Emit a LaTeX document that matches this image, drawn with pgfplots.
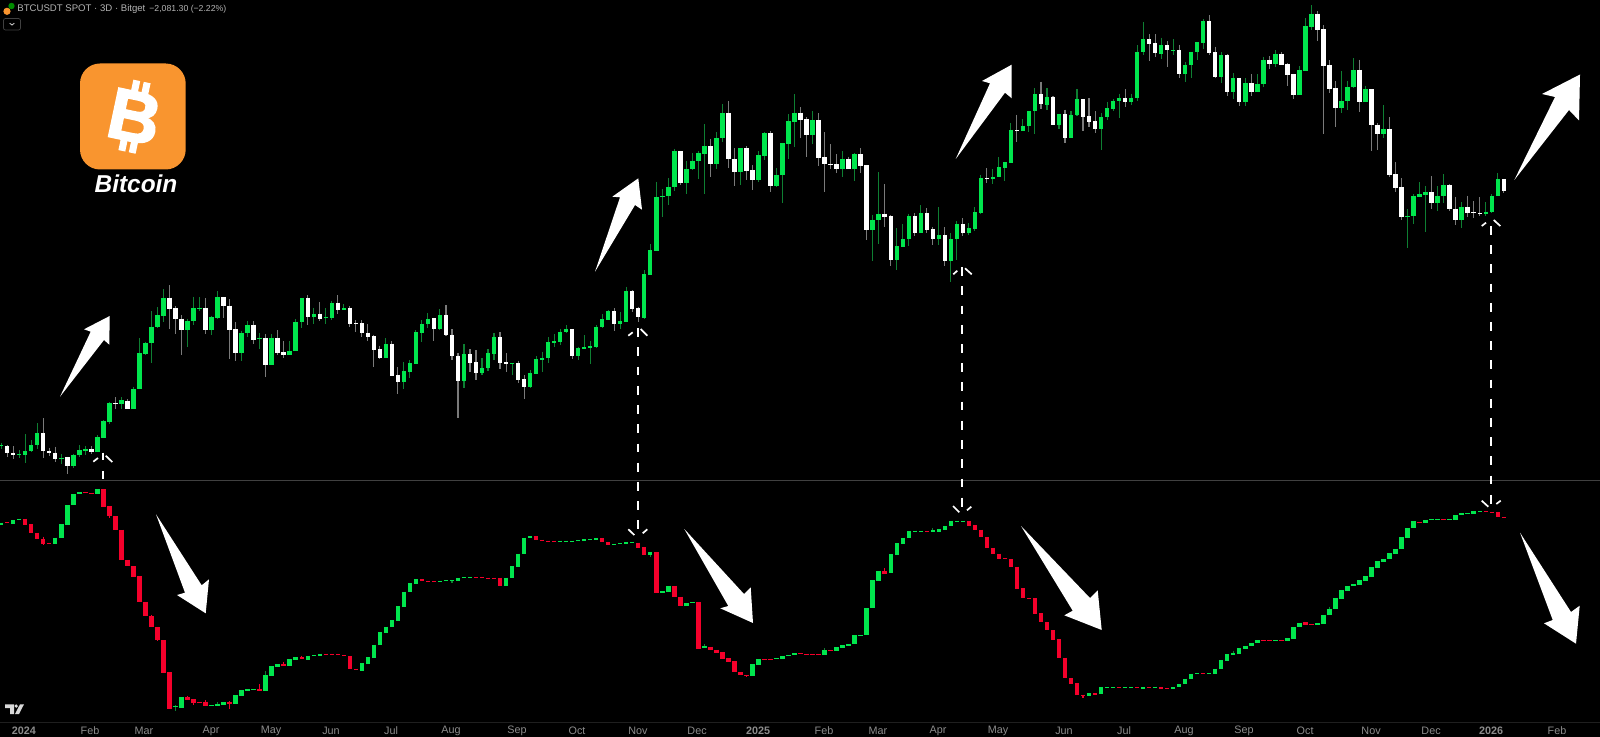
\documentclass[border=0pt]{standalone}
\usepackage{fontspec}
\setmainfont{Liberation Sans}
\newfontface\heavyB[FakeBold=2.2]{Liberation Sans Bold}
\usepackage{pgfplots}
\usepackage{pgfplotstable}
\pgfplotsset{compat=1.18}
\definecolor{cgreen}{HTML}{00E64D}
\definecolor{cgwick}{HTML}{0E7F32}
\definecolor{cwwick}{HTML}{7A7A7A}
\definecolor{cred}{HTML}{F5002B}
\definecolor{corange}{HTML}{F9952F}
\definecolor{ctick}{HTML}{8C8C8C}
\definecolor{chead}{HTML}{B4B4B4}
\pgfplotsset{
 cbar/.style 2 args={only marks,forget plot,scatter,mark=*,mark size=0pt,mark options={draw=none,fill=none},
  scatter/@pre marker code/.code={\draw[line width=#2,color=#1] (0pt,0pt) -- (0pt,{-0.5pt*\hgt});},
  scatter/@post marker code/.code={}},
 wick/.style={cbar={#1}{0.55pt},visualization depends on={\thisrow{l}-\thisrow{h} \as \hgt}},
 body/.style={cbar={#1}{2.2pt},visualization depends on={\thisrow{b}-\thisrow{t} \as \hgt}},
}
% upper panel: candle index, body top, body bottom, high, low (image pixels)
\pgfplotstableread{
i t b h l
0 445.3 446.3 442.7 448.7
3 453.7 455 450.3 457.7
4 451 454.7 434 463
5 445 451.3 440.3 452.3
6 433 445 423.3 449
10 457.7 459.3 454 464.3
12 454.7 466 453.7 467.7
13 450.3 455 445.3 456.7
14 449 450.7 446 455.3
16 437.3 452 435 452
17 421.3 437.7 420.3 438
18 403 422 402 424
20 400.3 404 397.3 409
22 389 409 386.7 409
23 353 389.3 338 389.3
24 342.7 353.7 341.7 354.7
25 326.7 343 311 363.3
26 315 327 307.3 328.3
27 297.7 315.7 289.3 321.7
31 320.7 330.3 318.7 346.7
32 308.3 321 296.7 324.7
33 308 309 297.3 311
35 317.3 330 315.7 335
36 297 317.7 291 319
40 332.7 353 330.7 361
41 325 333.3 320.7 336.7
43 337.7 338.7 333.3 349.3
45 337.7 365 334.3 365
48 350.7 355 341 355.3
49 321.7 351.3 319.3 351.3
50 298 322.3 298 328
52 313.7 316.7 307.7 323.7
54 317 318 308.3 323.7
55 302.7 318 300.7 319.7
57 308 310 304 310
64 344 357.7 338.3 357.7
67 371 382 361.7 389.3
68 363.3 371.7 360 377.7
69 332 364 330 364
70 323.7 333 320 342
71 318.7 324.3 313.3 328
73 315 328.7 309 329.7
77 354.3 380.7 344.3 388
80 368 372.7 358 375
81 353 368.3 349.3 370.7
82 337 353.7 332.7 360.3
85 363.3 364 363.3 374.7
88 373.3 387 369.7 387.7
89 359 374 356.3 374.3
90 357.7 359.7 351.7 372
91 341.7 358 337.3 363.3
92 341 342.7 334 346.7
93 331.7 342 328.7 344.7
94 329 332 325 333.3
96 348.3 356.3 346.7 360
97 347.3 348.7 335.3 349.3
98 346 348 341.3 364
99 326.7 346.7 325 347.7
100 319 327.3 314.3 328
101 311.3 320 310 320
103 321.3 324.3 312 328.7
104 291 321.7 286.7 321.7
107 274.3 317.7 270 318.7
108 250.3 275 244 275
109 197 251 181.7 251
110 196 197.3 189.3 216.7
111 186.7 196 178.3 205.3
112 151.3 187 148.7 190.7
114 168.7 183.3 160.7 194
115 160.7 169.3 153.3 170
116 153 161 151 179.3
117 146.3 153.7 124.3 194
119 138 164 132.3 168.7
120 113 138.3 104 142
123 148.3 171.7 148.3 185
126 155 180.3 151.3 182.3
127 133.3 155.7 132.3 160
129 175 186 168.3 186.7
130 143.3 175.3 142.7 202.7
131 121.3 143.7 114.3 159.3
132 112.7 122 94.3 147.3
135 120 134.7 111.3 144
140 158.7 168.7 151.3 177.3
142 154.3 168.7 153 180.7
145 220 230 214.7 261.3
146 213.7 220 172.3 244
149 246.3 260 228 270
150 239 247 224 247.3
151 216 239.3 213.7 246
153 213 232.7 205.3 232.7
156 235.3 239.3 207 245.3
158 239 261.3 233.3 281.7
159 224 239.3 221.3 260
161 228.3 233 223.3 235.3
162 212.3 229 207.3 230.7
163 178 213 174.7 214.3
165 176.7 179.3 169.3 184
166 167.3 177 157.3 177.3
167 162.3 168 161.7 180.7
168 129.7 163 122.7 163
170 125.7 131 119.3 131
171 110.7 126 110.7 131.7
172 94 111.3 88 133.7
174 97 104.7 88 110
176 114 125 114 129.3
178 115 137.7 111 138.3
179 99.3 115.3 89.3 116
183 117 128.7 113.3 150
184 108.3 117.3 101.7 120.3
185 101 109 98.7 110.7
186 98 101.3 93.7 118
188 97.7 102 93.7 105.3
189 51.7 98.3 45 101
190 39.3 52.3 21.7 54.7
193 45 53.7 37.7 59
195 50 50.7 39.3 55
197 64.7 74.3 62 82
198 51.7 65 51.7 77.7
199 42.3 52.3 42.3 60.3
200 21 43 19 49
203 55 77 52 83.3
205 78 91.7 73.3 99
207 83 102 78.3 106.3
209 83.7 91.7 74.3 92
210 59.7 84 56.7 86.7
212 54 64 50 66.7
216 70 95 66.3 95.3
217 26.3 70.7 18 71
218 13.7 27 5.3 30
223 101 107.7 71 112.7
224 87 101.3 80.7 109.7
225 70 87.3 58 87.7
227 89.3 101.7 85.7 101.7
230 129 133.7 105 137.7
234 216 217 208.7 248.3
235 196 216.3 194.3 224
236 194.3 197 182.3 197.3
237 192 195 186 231.7
239 195.7 203 186 211
240 185 196 174 202.7
243 207 219.7 202 228
247 211.7 214 202 215.7
248 195.7 212.3 194 212.7
249 179 196 173.3 196.3
}\upG
\pgfplotstableread{
i t b h l
1 446 453 445 456.7
2 452.7 455 446.3 458.7
7 433 451.3 418.3 458
8 451 453.3 447.7 456
9 452.7 459.3 446.7 461.7
11 457.3 466 456.7 473.7
15 449 452 446.3 454
19 403 404 397.3 409
21 400.7 409 399.3 409.3
28 297.7 308.7 285.3 329
29 308.3 319.3 306 334.3
30 318.7 330.3 315.3 354.7
34 308 330.3 298.3 334.3
37 297 306.3 296.7 318.3
38 305.7 329.7 299 358.7
39 329.3 353 322 361
42 324.7 339.7 321.3 343.7
44 338.3 364.7 334 377
46 337.7 353 330 354.7
47 352.3 354.7 341 358
51 298 316.7 295 325.3
53 313.7 318.7 302 320.7
56 302.7 310 295 314.3
58 308 323.7 306 326.7
59 323 324 320 332.3
60 323.3 333.3 320 337
61 332.7 337 324.3 340.7
62 336.3 350 334.7 367.3
63 349.3 357.7 345.7 358.7
65 343.7 375.7 341 376
66 374.7 382 367.3 393.7
72 318.3 328.7 317.7 340.7
74 315 335.3 305 335.7
75 334.7 356.3 329.3 360
76 355.7 380.7 353.3 418
78 354.3 363 349.3 371.7
79 362.3 372.7 350.3 380
83 337 363 332 369.3
84 362.3 364 353.3 371.7
86 363.3 380.3 360.7 382.7
87 379.3 387 375 398.7
95 329 356 329 359
102 311.3 324.3 308.3 331
105 291 309 290.3 311.7
106 308 317.3 306.7 322
113 151.3 183.3 150.7 185.3
118 146.3 164 138.7 176.7
121 113 159.3 101 168
122 159 171.7 148.3 186
124 148.3 171 146 180
125 170.3 180.3 165.3 190
128 133.3 185.7 131 191.7
133 112.7 120 107.3 138.3
134 119.3 134.7 117.3 156.7
136 120 158 113 166
137 157.3 164.3 132.3 191.7
138 163.7 165 144.3 169
139 164.3 168.7 154 173.3
141 158.7 168.7 156.7 169.3
143 154.3 166 148.3 172.7
144 165.3 230 164.7 240
147 213.7 216.7 184 226.7
148 216 260 215.3 265.7
152 216 232.7 213.3 235.7
154 213 229.7 208 232.7
155 229 239.3 227.3 245.3
157 235.3 261.3 227.3 266
160 224 233.3 218 236
164 178 179.3 168.3 183.3
169 130 130.7 114.7 141.7
173 94 104.3 81.7 108.7
175 97 125 96.3 125.3
177 114 137.7 109.7 143.3
180 99 117 98.7 131
181 116.3 122 98 127.3
182 121.3 128.7 111.3 133
187 98 102 89.3 106.7
191 39.3 44 34.3 61
192 43 53.3 34 57.3
194 45 50.3 41.3 66.7
196 50 74.3 44.7 77.7
201 21 52.7 15 55.3
202 52.3 77 46.7 77.7
204 54.7 91.7 54 96
206 78 102 78 106
208 83 91.7 74 95.7
211 59.7 64 56 69
213 54 64.7 52.3 65
214 64 75 63.3 86
215 74.3 94.7 73.7 99
219 13.7 30 11.3 40.7
220 29.3 65.7 25.3 133.7
221 65 88.7 60 93
222 88 107.7 81 127
226 70 101.7 59.7 112
228 89.3 125.3 89 150.7
229 124.7 133.7 123.3 149.7
231 129 175 117 176.7
232 174.3 187.7 162.3 192
233 187 217.3 178.3 220
238 192 203 176.3 209
241 185 209.3 184.3 211.3
242 208.7 219.7 197 224.7
244 207 213 195.7 217
245 212 213.3 201 218
246 213 214 197 215.7
250 179 191 179 192.7
}\upW
% lower panel: candle index, body top, body bottom
\pgfplotstableread{
i t b
0 522.7 525
2 520 524
3 518.7 520
9 537.7 543.7
10 524.3 538
11 505 524.7
12 494 505.3
13 492 494.3
16 489 493.7
29 706 707.3
30 697 708
35 705 706
36 703.7 705.7
37 702.3 705
39 695 703.7
40 690 695.7
41 689.3 690.7
42 689 690
44 675.3 690.7
45 666 676
46 664 666.7
48 659.3 666
49 657 660
51 655.7 659.7
52 655 656
53 653.7 655.7
60 663 670.7
61 657 663.7
62 644.7 657.7
63 632.3 645
64 626.7 633
65 620 627.3
66 606 620.7
67 591.7 606.7
68 583 592.3
69 579.3 583.7
73 580.7 581.7
74 580 581.3
75 580.3 581.3
76 577.7 580.7
77 577 578
78 577 577.7
84 577.7 586.3
85 566.3 578.3
86 553.7 566.7
87 537.7 554
88 536 538
93 540.7 541.7
94 540.7 541.7
95 540.7 541.7
96 540 541.3
97 539.3 540.7
98 539 540
99 538.3 539.7
102 543.7 544.7
103 543.3 544.3
104 542.3 544
105 542.3 543
108 552.3 555
110 591.3 593
111 585.7 591.7
114 603.3 605.7
115 602.3 603.3
117 646.3 648.3
125 664.3 676
126 659.3 665
129 658.3 659.3
130 655.7 659.3
131 654.7 656
132 653.3 655
137 650 654.7
139 647 651
140 645.3 647.7
141 643.7 645.7
142 635.3 644
143 634.7 635.7
144 608 635.3
145 580.3 608.3
146 570.7 580.7
148 554.3 573.3
149 543.3 554.7
150 537.7 543.7
151 531.3 538
152 530.7 531.7
153 530.7 531.3
155 530 531.7
156 529.3 531.7
157 526 529.7
158 520.7 526.3
159 520.7 521.3
160 520.7 521.7
181 693.3 696
183 687.3 694.3
184 687 687.7
185 687 687.7
187 687.3 688
188 687.3 688.3
190 687 688.7
192 686.7 687.7
195 687 688.7
196 684 687.3
197 678.7 684.3
198 673.7 679
199 673.3 674
201 673 674
202 668.7 673.7
203 660 669.3
204 654.3 660.7
205 653 655
206 648.3 654
207 645.7 649
208 642.7 646.3
209 640.3 643.3
212 640.3 641
214 638.3 641.3
215 627 639
216 622.7 627.3
219 623.3 625
220 614.7 623.7
221 608.7 615
222 598.3 609.3
223 590.3 599
224 585.7 591
225 584.3 586
226 580 585
227 576.3 580.7
228 567 577
229 561 567.7
230 558.7 561.7
231 553 559.3
232 548.7 553.7
233 537 549.3
234 527.7 537.7
235 521.3 528.3
237 519.7 523.3
238 519 520
239 519 519.7
241 519 519.7
242 515 519.7
243 513.3 515.3
244 513 514.3
245 511 514
246 511 511.7
}\loG
\pgfplotstableread{
i t b
1 522 523.3
4 518.7 524.7
5 524 533
6 532.7 539.3
7 539 543.7
8 543 543.7
14 492 492.7
15 492.7 493.7
17 489 506.7
18 506.3 516.3
19 516 530
20 529.7 560
21 559.7 566.3
22 566 577
23 576.3 601.7
24 601.7 616
25 616 627.3
26 627 640.3
27 640 672.7
28 672.3 708.7
31 697 699.7
32 699.3 702.7
33 701.7 702.7
34 701.7 706
38 702.3 704
43 689 690.7
47 664 666
50 657 659.3
54 653.7 654.7
55 654 655
56 654.3 655.3
57 655 656
58 656 669.3
59 668.7 670.3
70 579.3 581.3
71 581 581.7
72 581 581.7
79 577 577.7
80 577.3 578
81 577.7 578.3
82 577.7 578.3
83 577.7 586
89 536 539.7
90 539.7 541.3
91 540.7 541.7
92 540.7 542
100 538.3 542.3
101 542 544.7
106 542.7 548
107 547.3 554.7
109 552.3 593
112 585.7 597
113 596.7 605.7
116 602.3 648.7
118 646.7 650
119 649.7 652.7
120 652 659
121 658.3 662
122 661.3 672.3
123 672 675.3
124 674.7 675.7
127 659.3 660
128 659.3 660
133 653.3 654
134 653.7 654.3
135 654 655
136 653.7 654.7
138 650 651
147 570.7 573.7
154 531 532
161 521 525.7
162 525.3 530
163 529.7 537.3
164 537 548
165 547.7 554
166 553.7 558.7
167 558.3 559.3
168 559 567
169 566.7 588.7
170 588.3 598.3
171 598 599
172 598.3 613.7
173 613.3 622.3
174 622 630.3
175 630 639.7
176 639.3 657.7
177 657.7 678.3
178 678 683.7
179 683.3 695
180 694.7 695.7
182 693.3 694.7
186 687.3 688
189 687.3 688.3
191 687 687.7
193 687.3 689
194 688 688.7
200 673.3 674
210 640.3 641
211 640.3 641
213 640.3 641
217 622.3 624.7
218 624 625
236 521.7 523.3
240 519 520
247 511 512.3
248 511.7 512.7
249 512 517.3
250 517 517.7
}\loR
\pgfplotstableread{
i h l
29 705 710.7
36 702 705.7
44 671 690.7
75 580.3 582.7
108 552.3 557.3
117 644 648.3
137 648.3 654.7
155 528 531.7
205 650.7 655
221 606.7 615
}\loGw
\pgfplotstableread{
i h l
7 536.7 545
18 506.3 517.7
25 614.7 627.3
26 627 641.3
31 695.7 699.7
32 699.3 705
34 700 706
38 701 708.7
43 684 690.7
47 661.7 666
50 655.7 659.3
124 674.7 676.7
147 568.3 573.7
180 694.7 697.7
}\loRw
\begin{document}
\begin{tikzpicture}
\begin{axis}[
 at={(0,0)},anchor=south west,
 scale only axis,width=800pt,height=368.5pt,
 xmin=-0.2,xmax=266.02,ymin=0,ymax=737,y dir=reverse,
 axis background/.style={fill=black},
 axis line style={draw=none},
 ytick=\empty,
 major tick length=0pt,
 xtick={3.79,14.78,23.76,34.91,44.89,54.88,64.86,74.84,85.82,95.81,105.95,115.78,125.93,136.91,145.89,155.87,165.86,176.84,186.82,196.81,206.79,216.95,227.93,237.91,247.9,258.87},
 xticklabels={\textbf{2024},Feb,Mar,Apr,May,Jun,Jul,Aug,Sep,Oct,Nov,Dec,\textbf{2025},Feb,Mar,Apr,May,Jun,Jul,Aug,Sep,Oct,Nov,Dec,\textbf{2026},Feb},
 xticklabel style={anchor=center,yshift=3pt,text=ctick,font=\fontsize{5.4}{6}\selectfont},
 clip=true,
]
\addplot[wick=cgwick] table[x=i,y=h] {\upG};
\addplot[wick=cwwick] table[x=i,y=h] {\upW};
\addplot[body=cgreen] table[x=i,y=t] {\upG};
\addplot[body=white] table[x=i,y=t] {\upW};
\addplot[wick=cgwick] table[x=i,y=h] {\loGw};
\addplot[wick=cred] table[x=i,y=h] {\loRw};
\addplot[body=cgreen] table[x=i,y=t] {\loG};
\addplot[body=cred] table[x=i,y=t] {\loR};
\end{axis}
\begin{axis}[
 at={(0,0)},anchor=south west,
 scale only axis,width=800pt,height=368.5pt,
 xmin=0,xmax=1600,ymin=0,ymax=737,y dir=reverse,
 hide axis,clip=false,
]
% separators
\draw[color=black!75!white,line width=0.4pt] (axis cs:0,480) -- (axis cs:1600,480);
\draw[color=black!88!white,line width=0.4pt] (axis cs:0,722.5) -- (axis cs:1600,722.5);
% up arrows
\fill[white] (axis cs:60,396.7) -- (axis cs:90.7,331.7) -- (axis cs:84,329.3) -- (axis cs:109.7,316) -- (axis cs:109.3,344.7) -- (axis cs:104,340) -- cycle;
\fill[white] (axis cs:595,271.7) -- (axis cs:620,197.3) -- (axis cs:612.3,196.7) -- (axis cs:638.3,178.3) -- (axis cs:642,209.7) -- (axis cs:635,205) -- cycle;
\fill[white] (axis cs:955.7,159) -- (axis cs:990,83.3) -- (axis cs:982,81) -- (axis cs:1011.7,64.7) -- (axis cs:1011.7,98.3) -- (axis cs:1005,92.7) -- cycle;
\fill[white] (axis cs:1514.3,180) -- (axis cs:1555,97) -- (axis cs:1542,94) -- (axis cs:1580,74.5) -- (axis cs:1579,120.5) -- (axis cs:1569,110) -- cycle;
% down arrows
\fill[white] (axis cs:156,514.3) -- (axis cs:185,592.7) -- (axis cs:177,595) -- (axis cs:205.7,613.3) -- (axis cs:209,579.3) -- (axis cs:201.7,585.3) -- cycle;
\fill[white] (axis cs:684.3,529) -- (axis cs:728.3,606) -- (axis cs:720.3,608.3) -- (axis cs:753,623) -- (axis cs:750.7,587.3) -- (axis cs:744,594) -- cycle;
\fill[white] (axis cs:1021,526) -- (axis cs:1072.7,610.7) -- (axis cs:1064.3,615.3) -- (axis cs:1101.7,630) -- (axis cs:1097.7,590.3) -- (axis cs:1090,598) -- cycle;
\fill[white] (axis cs:1520,532.7) -- (axis cs:1552.7,620) -- (axis cs:1544,623.3) -- (axis cs:1576,643.7) -- (axis cs:1579.7,605.7) -- (axis cs:1571,612) -- cycle;
% dashed links
\begin{scope}[white,line width=0.85pt]
\draw[dash pattern=on 3.8pt off 5.5pt] (axis cs:103,452.7) -- (axis cs:103,481);
\draw (axis cs:93.3,461.7) -- (axis cs:98,458);
\draw (axis cs:105.7,455.7) -- (axis cs:112.3,462);
\draw[dash pattern=on 4.4pt off 5.2pt] (axis cs:638.2,328.3) -- (axis cs:638.2,535);
\draw (axis cs:628.3,335.7) -- (axis cs:632.7,332.3);
\draw (axis cs:640.7,329) -- (axis cs:647.3,335.7);
\draw (axis cs:628.3,529.3) -- (axis cs:634.3,535);
\draw (axis cs:642.7,533.3) -- (axis cs:647.3,529.3);
\draw[dash pattern=on 4.4pt off 5.2pt] (axis cs:962.3,267.3) -- (axis cs:962.3,510);
\draw (axis cs:953.3,274.3) -- (axis cs:957.3,270.7);
\draw (axis cs:965,268.3) -- (axis cs:971.7,274.3);
\draw (axis cs:953,506) -- (axis cs:959.3,512.3);
\draw (axis cs:967,510.3) -- (axis cs:971.3,506.7);
\draw[dash pattern=on 4.4pt off 5.2pt] (axis cs:1491.3,226) -- (axis cs:1491.3,509.3);
\draw (axis cs:1481.7,226) -- (axis cs:1486,222.7);
\draw (axis cs:1493.7,220) -- (axis cs:1500.3,226);
\draw (axis cs:1481.7,500.7) -- (axis cs:1488.3,506.7);
\draw (axis cs:1496.3,504) -- (axis cs:1500.7,500.7);
\end{scope}
% header
\fill[corange] (axis cs:7,11.3) circle[radius=1.8pt];
\fill[green!55!black] (axis cs:11.5,6) circle[radius=1.6pt];
\node[anchor=west,inner sep=0pt,text=chead,font=\fontsize{4.8}{6}\selectfont] at (axis cs:17,9) {BTCUSDT SPOT · 3D · Bitget};
\node[anchor=west,inner sep=0pt,text=chead,font=\fontsize{4.35}{6}\selectfont] at (axis cs:149,9) {−2,081.30 (−2.22\%)};
\draw[color=black!75!white,line width=0.35pt,rounded corners=1pt] (axis cs:3.5,18.5) rectangle (axis cs:20.5,30);
\draw[white!85!black,line width=0.4pt] (axis cs:9.7,23.2) -- (axis cs:12,25) -- (axis cs:14.3,23.2);
% logo
\fill[corange,rounded corners=10pt] (axis cs:80,63.5) rectangle (axis cs:185.7,169.5);
\begin{scope}[shift={(axis cs:134.5,116.7)},rotate=-12]
\fill[white] (-4.4pt,-18pt) rectangle (-0.9pt,-12pt);
\fill[white] (0.9pt,-18pt) rectangle (4.4pt,-12pt);
\fill[white] (-4.4pt,12pt) rectangle (-0.9pt,18pt);
\fill[white] (0.9pt,12pt) rectangle (4.4pt,18pt);
\node[text=white,inner sep=0pt,transform shape,font=\fontsize{36}{36}\selectfont\heavyB] at (0,0) {B};
\end{scope}
\node[text=white,inner sep=0pt,font=\fontsize{12.2}{13}\selectfont\bfseries\itshape] at (axis cs:136,184) {Bitcoin};
% TradingView mark
\fill[white!85!black] (axis cs:5,704.3) -- (axis cs:14,704.3) -- (axis cs:14,714) -- (axis cs:10,714) -- (axis cs:10,708) -- (axis cs:5,708) -- cycle;
\fill[white!85!black] (axis cs:16.2,706) circle[radius=0.9pt];
\fill[white!85!black] (axis cs:20,704.3) -- (axis cs:24,704.3) -- (axis cs:19,714) -- (axis cs:15,714) -- cycle;
\end{axis}
\pgfresetboundingbox
\path[use as bounding box] (0,0) rectangle (800pt,368.5pt);
\end{tikzpicture}
\end{document}
